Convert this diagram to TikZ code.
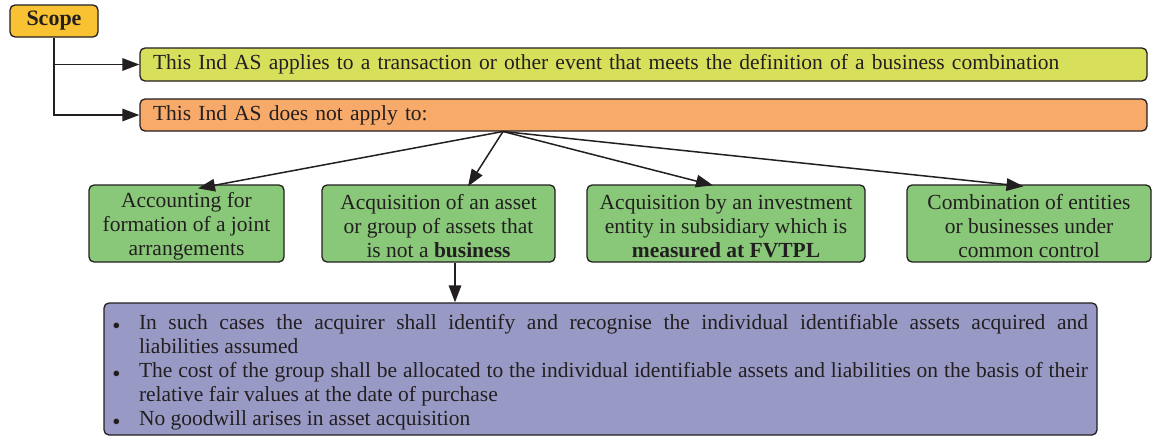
\documentclass[tikz,border=0pt]{standalone}
\usepackage{fontspec}
\setmainfont{Liberation Serif}
\usetikzlibrary{arrows.meta,calc}
\definecolor{ink}{HTML}{231F20}
\definecolor{scopec}{HTML}{F9C232}
\definecolor{limec}{HTML}{D8E05B}
\definecolor{orangec}{HTML}{F8AA6A}
\definecolor{greenc}{HTML}{88C878}
\definecolor{bluec}{HTML}{9899C4}
\newcommand{\mybul}{\noindent\llap{{\fontsize{15}{15}\selectfont$\bullet$}\hspace{19pt}}}
\begin{document}
\begin{tikzpicture}[x=1pt,y=-1pt,
  every node/.style={text=ink},
  box/.style={draw=ink, line width=1.3pt, rounded corners=5pt, inner sep=0pt},
  txt/.style={font=\fontsize{21.5}{24}\selectfont},
  gbox/.style={box, txt, fill=greenc, minimum height=77pt, align=center},
  conn/.style={draw=ink, line width=1.5pt, -{Triangle[length=17pt,width=12.5pt]}}]
\useasboundingbox (0,0) rectangle (1153,439);
\node[box, fill=scopec, minimum width=88pt, minimum height=32pt,
  font=\fontsize{22}{24}\selectfont\bfseries] (scope) at (54,21) {Scope};
\node[box, txt, fill=limec, minimum width=1007pt, minimum height=33pt,
  text width=981pt, inner xsep=13pt, align=left] (app) at (643.5,64.5)
  {This Ind AS applies to a transaction or other event that meets the definition of a business combination};
\node[box, txt, fill=orangec, minimum width=1007pt, minimum height=32pt,
  text width=981pt, inner xsep=13pt, align=left] (nap) at (643.5,115)
  {This Ind AS does not apply to:};
\node[gbox, minimum width=195pt] (A) at (186.5,223.5)
  {\rule{0pt}{20pt}Accounting for\\formation of a joint\\arrangements};
\node[gbox, minimum width=233pt] (B) at (438.5,223.5)
  {\rule{0pt}{20pt}Acquisition of an asset\\or group of assets that\\is not a \textbf{business}};
\node[gbox, minimum width=278pt] (C) at (726,223.5)
  {\rule{0pt}{20pt}Acquisition by an investment\\entity in subsidiary which is\\\textbf{measured at FVTPL}};
\node[gbox, minimum width=244pt] (D) at (1029,223.5)
  {\rule{0pt}{20pt}Combination of entities\\or businesses under\\common control};
\node[box, txt, fill=bluec, minimum width=993pt, minimum height=132pt,
  text width=949pt, inner xsep=22pt, align=justify] (bl) at (600.5,369)
  {\leftskip=13pt\rightskip=-13pt
   \mybul\rule{0pt}{22pt}In such cases the acquirer shall identify and recognise the individual identifiable assets acquired and\linebreak liabilities assumed\par
   \mybul The cost of the group shall be allocated to the individual identifiable assets and liabilities on the basis of their relative fair values at the date of purchase\par
   \mybul No goodwill arises in asset acquisition\par};
\coordinate (src) at (503,131.5);
\draw[conn] (scope.south) |- (app.west);
\draw[conn] (scope.south) |- (nap.west);
\draw[conn] (src) -- ([xshift=11.5pt,yshift=-4pt]A.north);
\draw[conn] (src) -- ([xshift=29.5pt,yshift=-2pt]B.north);
\draw[conn] (src) -- ([xshift=-13pt,yshift=-1pt]C.north);
\draw[conn] (src) -- ([xshift=-5.5pt,yshift=-2pt]D.north);
\draw[conn] ([xshift=16.5pt]B.south) -- ([xshift=16.5pt]B.south |- bl.north);
\end{tikzpicture}
\end{document}
